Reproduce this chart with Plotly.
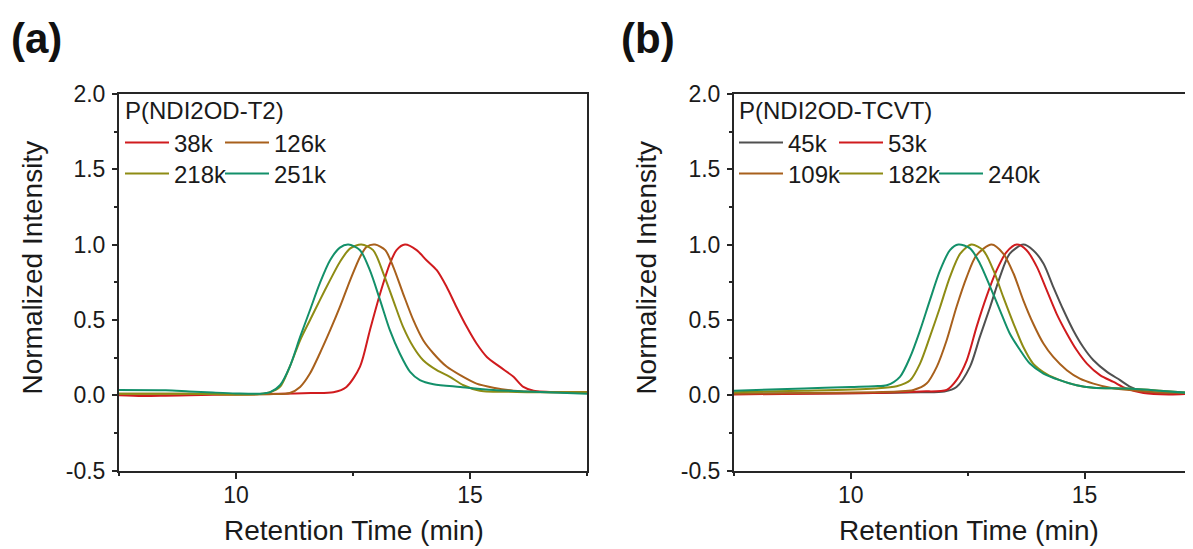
import plotly.graph_objects as go

# ---------------- data ----------------
# Panel (a): P(NDI2OD-T2)
a_38k_x = [7.5, 8.0, 8.5, 9.0, 10.0, 11.0, 11.6, 12.08, 12.36, 12.65, 12.86, 13.08, 13.29, 13.43, 13.61, 13.86, 14.07, 14.29, 14.5, 14.71, 14.93, 15.14, 15.36, 15.64, 15.93, 16.14, 16.36, 17.0, 17.5]
a_38k_y = [0.0, -0.005, -0.003, 0.0, 0.005, 0.01, 0.015, 0.02, 0.055, 0.19, 0.43, 0.675, 0.875, 0.963, 1.0, 0.963, 0.896, 0.83, 0.72, 0.586, 0.454, 0.343, 0.254, 0.188, 0.122, 0.055, 0.03, 0.02, 0.02]

a_126k_x = [7.5, 9.0, 10.0, 10.8, 11.15, 11.37, 11.58, 11.79, 12.01, 12.22, 12.44, 12.65, 12.79, 12.97, 13.19, 13.36, 13.57, 13.79, 14.0, 14.22, 14.5, 14.79, 15.14, 15.5, 15.93, 16.5, 17.5]
a_126k_y = [0.01, 0.01, 0.005, 0.008, 0.015, 0.055, 0.144, 0.277, 0.43, 0.586, 0.764, 0.918, 0.985, 1.0, 0.963, 0.852, 0.675, 0.498, 0.365, 0.277, 0.19, 0.133, 0.077, 0.05, 0.03, 0.022, 0.02]

a_218k_x = [7.5, 9.0, 10.0, 10.5, 10.73, 10.94, 11.15, 11.37, 11.58, 11.79, 12.01, 12.22, 12.44, 12.68, 12.93, 13.15, 13.36, 13.57, 13.79, 14.0, 14.29, 14.57, 14.86, 15.21, 16.0, 17.5]
a_218k_y = [0.01, 0.01, 0.005, 0.008, 0.02, 0.055, 0.19, 0.365, 0.498, 0.63, 0.764, 0.885, 0.975, 1.0, 0.963, 0.808, 0.63, 0.454, 0.32, 0.232, 0.166, 0.122, 0.066, 0.03, 0.022, 0.02]

a_251k_x = [7.5, 8.5, 9.0, 9.5, 10.0, 10.5, 10.73, 10.94, 11.15, 11.37, 11.58, 11.79, 12.01, 12.22, 12.40, 12.65, 12.86, 13.08, 13.29, 13.5, 13.72, 13.93, 14.22, 14.79, 15.5, 16.21, 17.5]
a_251k_y = [0.035, 0.033, 0.025, 0.018, 0.012, 0.01, 0.02, 0.066, 0.19, 0.387, 0.564, 0.742, 0.896, 0.98, 1.0, 0.963, 0.83, 0.63, 0.43, 0.277, 0.155, 0.1, 0.073, 0.055, 0.035, 0.025, 0.01]

# Panel (b): P(NDI2OD-TCVT)
b_45k_x = [7.5, 9.0, 10.5, 11.5, 12.0, 12.26, 12.55, 12.76, 12.98, 13.19, 13.4, 13.69, 13.9, 14.12, 14.33, 14.55, 14.76, 14.97, 15.19, 15.48, 15.76, 15.98, 16.19, 16.6, 17.32]
b_45k_y = [0.01, 0.012, 0.015, 0.02, 0.025, 0.055, 0.19, 0.387, 0.586, 0.786, 0.94, 1.0, 0.963, 0.875, 0.72, 0.564, 0.43, 0.32, 0.232, 0.155, 0.1, 0.055, 0.03, 0.015, 0.01]

b_53k_x = [7.5, 9.0, 10.5, 11.5, 12.05, 12.26, 12.48, 12.69, 12.9, 13.12, 13.33, 13.55, 13.76, 13.98, 14.19, 14.4, 14.62, 14.83, 15.05, 15.33, 15.62, 15.9, 16.26, 16.8, 17.32]
b_53k_y = [0.005, 0.01, 0.015, 0.025, 0.035, 0.1, 0.232, 0.454, 0.653, 0.83, 0.95, 1.0, 0.963, 0.852, 0.697, 0.542, 0.41, 0.3, 0.21, 0.133, 0.088, 0.044, 0.015, 0.005, 0.01]

b_109k_x = [7.5, 9.0, 10.5, 11.0, 11.34, 11.62, 11.84, 12.05, 12.26, 12.48, 12.69, 13.01, 13.26, 13.48, 13.69, 13.9, 14.12, 14.33, 14.62, 14.9, 15.19, 15.55, 15.9, 16.5, 17.32]
b_109k_y = [0.01, 0.015, 0.02, 0.025, 0.035, 0.077, 0.19, 0.365, 0.586, 0.786, 0.93, 1.0, 0.94, 0.808, 0.63, 0.476, 0.343, 0.254, 0.166, 0.11, 0.077, 0.05, 0.036, 0.02, 0.015]

b_182k_x = [7.5, 9.0, 10.5, 10.98, 11.27, 11.48, 11.69, 11.91, 12.12, 12.34, 12.58, 12.83, 13.05, 13.26, 13.48, 13.69, 13.9, 14.19, 14.47, 14.83, 15.19, 15.9, 16.61, 17.32]
b_182k_y = [0.02, 0.03, 0.045, 0.06, 0.1, 0.21, 0.387, 0.586, 0.786, 0.94, 1.0, 0.963, 0.83, 0.653, 0.476, 0.32, 0.21, 0.14, 0.1, 0.066, 0.05, 0.044, 0.03, 0.013]

b_240k_x = [7.5, 9.0, 10.0, 10.5, 10.77, 11.05, 11.27, 11.48, 11.69, 11.91, 12.12, 12.30, 12.55, 12.76, 12.98, 13.19, 13.4, 13.62, 13.83, 14.12, 14.47, 14.83, 15.19, 15.9, 16.61, 17.32]
b_240k_y = [0.03, 0.045, 0.055, 0.06, 0.066, 0.122, 0.254, 0.43, 0.63, 0.83, 0.963, 1.0, 0.975, 0.875, 0.72, 0.564, 0.41, 0.3, 0.21, 0.144, 0.1, 0.066, 0.05, 0.044, 0.03, 0.013]

labels_a = ["38k", "126k", "218k", "251k"]
labels_b = ["45k", "53k", "109k", "182k", "240k"]
x_ticks = [10, 15]
y_ticks = [-0.5, 0.0, 0.5, 1.0, 1.5, 2.0]
y_ticklabels = ["-0.5", "0.0", "0.5", "1.0", "1.5", "2.0"]

# ---------------- style ----------------
WIN_W, WIN_H = 1193, 549
OFF = 8  # the page places the figure 8 px from the window's top-left corner
W, H = WIN_W - OFF, WIN_H - OFF
FONT = "Arial, Liberation Sans, Helvetica, sans-serif"
RED = "#D01B1E"
BROWN = "#A8601C"
OLIVE = "#8E8C14"
GREEN = "#13906A"
GRAY = "#505050"
AXC = "#262626"

def fx(p):
    return (p - OFF) / W

def fy(p):
    return 1 - (p - OFF) / H

fig = go.Figure()

# (x, y, colour, legend row, last item in its row)
series_a = [(a_38k_x, a_38k_y, RED, "legend", False), (a_126k_x, a_126k_y, BROWN, "legend", True),
            (a_218k_x, a_218k_y, OLIVE, "legend2", False), (a_251k_x, a_251k_y, GREEN, "legend2", True)]
series_b = [(b_45k_x, b_45k_y, GRAY, "legend3", False), (b_53k_x, b_53k_y, RED, "legend3", True),
            (b_109k_x, b_109k_y, BROWN, "legend4", False), (b_182k_x, b_182k_y, OLIVE, "legend4", False),
            (b_240k_x, b_240k_y, GREEN, "legend4", True)]

for series, labels, xa, ya in [(series_a, labels_a, "x", "y"), (series_b, labels_b, "x2", "y2")]:
    for (xs, ys, c, lg, last), name in zip(series, labels):
        fig.add_trace(go.Scatter(x=xs, y=ys, name=name, mode="lines",
                                 line=dict(color=c, width=2, shape="spline", smoothing=0.8),
                                 xaxis=xa, yaxis=ya, legend=lg,
                                 legendwidth=70 if last else 41))

tickfont = dict(family=FONT, size=23, color="#1a1a1a")

def xaxis_style(domain, rng, anchor):
    return dict(domain=domain, range=rng, anchor=anchor, automargin=False,
                tickvals=x_ticks, ticktext=[str(v) for v in x_ticks],
                ticks="outside", ticklen=6, tickwidth=1.5, tickcolor=AXC,
                minor=dict(ticks="outside", ticklen=3, tickwidth=1.5, tickcolor=AXC,
                           tick0=7.5, dtick=2.5, showgrid=False),
                showline=True, linecolor=AXC, linewidth=2, mirror=True,
                showgrid=False, zeroline=False, tickfont=tickfont,
                ticklabelstandoff=-3)

def yaxis_style(anchor, mirror):
    return dict(domain=[fy(470.5), fy(94)], range=[-0.5, 2.0], anchor=anchor, automargin=False,
                tickvals=y_ticks, ticktext=y_ticklabels,
                ticks="outside", ticklen=5, tickwidth=1.5, tickcolor=AXC,
                minor=dict(ticks="outside", ticklen=3, tickwidth=1.5, tickcolor=AXC,
                           tick0=0, dtick=0.25, showgrid=False),
                showline=True, linecolor=AXC, linewidth=2, mirror=mirror,
                showgrid=False, zeroline=False, tickfont=tickfont,
                ticklabelstandoff=2)

legfont = dict(family=FONT, size=24, color="#1a1a1a")

def leg(xp, yp):
    return dict(x=fx(xp), y=fy(yp), xanchor="left", yanchor="middle",
                orientation="h", font=legfont, bgcolor="rgba(0,0,0,0)",
                itemwidth=44, entrywidth=41, entrywidthmode="pixels",
                tracegroupgap=0, traceorder="normal")

fig.update_layout(
    width=W, height=H,
    margin=dict(l=0, r=0, t=0, b=0, autoexpand=False),
    paper_bgcolor="white", plot_bgcolor="white",
    showlegend=True,
    xaxis=xaxis_style([fx(119), fx(587)], [7.5, 17.5], "y"),
    yaxis=yaxis_style("x", True),
    xaxis2=xaxis_style([fx(734), 1.0], [7.5, 17.32], "y2"),
    yaxis2=yaxis_style("x2", False),
    legend=leg(120, 143),
    legend2=leg(120, 174),
    legend3=leg(734, 143),
    legend4=leg(734, 174),
)

ann = []
titlefont = dict(family=FONT, size=28, color="#1a1a1a")
ann.append(dict(text="Retention Time (min)", x=fx(353.5), y=fy(530), xref="paper", yref="paper",
                showarrow=False, font=titlefont, xanchor="center", yanchor="middle", borderpad=0))
ann.append(dict(text="Retention Time (min)", x=fx(969), y=fy(530), xref="paper", yref="paper",
                showarrow=False, font=titlefont, xanchor="center", yanchor="middle", borderpad=0))
ann.append(dict(text="Normalized Intensity", x=fx(31.5), y=fy(268), xref="paper", yref="paper",
                showarrow=False, font=titlefont, textangle=-90, xanchor="center", yanchor="middle"))
ann.append(dict(text="Normalized Intensity", x=fx(645.6), y=fy(268), xref="paper", yref="paper",
                showarrow=False, font=titlefont, textangle=-90, xanchor="center", yanchor="middle"))
ann.append(dict(text="P(NDI2OD-T2)", x=fx(123), y=fy(111), xref="paper", yref="paper",
                showarrow=False, font=legfont, xanchor="left", yanchor="middle"))
ann.append(dict(text="P(NDI2OD-TCVT)", x=fx(737), y=fy(111), xref="paper", yref="paper",
                showarrow=False, font=legfont, xanchor="left", yanchor="middle"))
ann.append(dict(text="<b>(a)</b>", x=fx(36), y=fy(38.5), xref="paper", yref="paper",
                showarrow=False, font=dict(family=FONT, size=42, color="#111111"),
                xanchor="center", yanchor="middle"))
ann.append(dict(text="<b>(b)</b>", x=fx(647.5), y=fy(38.5), xref="paper", yref="paper",
                showarrow=False, font=dict(family=FONT, size=42, color="#111111"),
                xanchor="center", yanchor="middle"))
fig.update_layout(annotations=ann)

fig.write_html("out.html")
